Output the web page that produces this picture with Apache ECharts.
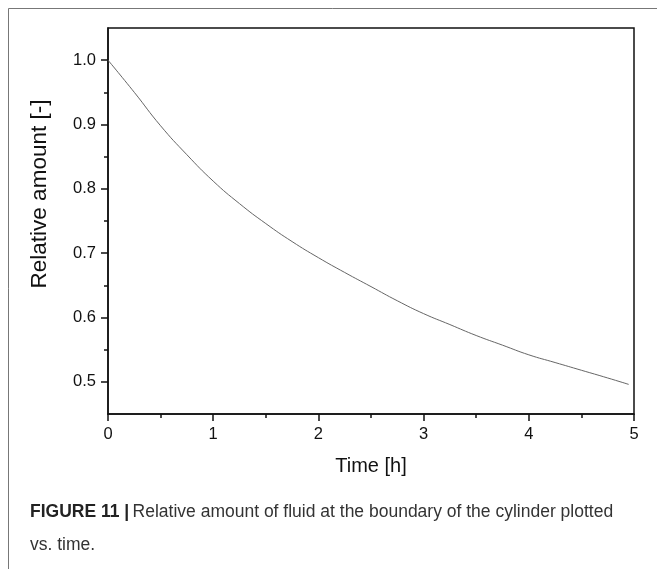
<!DOCTYPE html>
<html>
<head>
<meta charset="utf-8">
<script src="https://cdn.jsdelivr.net/npm/echarts@6/dist/echarts.min.js"></script>
<style>
  html, body { margin: 0; padding: 0; background: #fff; }
  #chart { width: 657px; height: 569px; }
</style>
</head>
<body>
<div id="chart"></div>
<script>
// Time in hours and relative amount of fluid at the cylinder boundary
const timeH = [0, 0.25, 0.5, 0.75, 1, 1.25, 1.5, 1.75, 2, 2.25, 2.5, 2.75, 3, 3.25, 3.5, 3.75, 4, 4.25, 4.5, 4.75, 4.95];
const relAmount = [1.0, 0.950, 0.898, 0.853, 0.812, 0.777, 0.746, 0.718, 0.693, 0.670, 0.648, 0.626, 0.606, 0.589, 0.572, 0.557, 0.542, 0.530, 0.518, 0.506, 0.496];

const yMajorTicks = [0.5, 0.6, 0.7, 0.8, 0.9, 1.0];
const yMinorTicks = [0.55, 0.65, 0.75, 0.85, 0.95];
const xLabels = ['0', '1', '2', '3', '4', '5'];

const FONT = 'Liberation Sans, Arial, sans-serif';

const chart = echarts.init(document.getElementById('chart'), null, { renderer: 'canvas' });

const gridBox = { left: 108, top: 28, width: 526, height: 386 };

chart.setOption({
  animation: false,
  backgroundColor: '#fff',
  grid: Object.assign({ show: true, borderColor: '#111', borderWidth: 1.5, backgroundColor: 'transparent' }, gridBox),
  xAxis: {
    type: 'value', min: 0, max: 5, interval: 1,
    axisLine: { show: true, lineStyle: { color: '#111', width: 1.5 } },
    axisTick: { show: true, length: 7, lineStyle: { color: '#111', width: 1.5 } },
    minorTick: { show: true, splitNumber: 2, length: 4, lineStyle: { color: '#111', width: 1.5 } },
    splitLine: { show: false },
    axisLabel: {
      margin: 12, color: '#111', fontSize: 16.5, fontFamily: FONT,
      formatter: v => xLabels[Math.round(v)]
    }
  },
  yAxis: [{
    type: 'value', min: 0.45, max: 1.05,
    axisLine: { show: true, lineStyle: { color: '#111', width: 1.5 } },
    axisTick: { show: true, length: 7, customValues: yMajorTicks, lineStyle: { color: '#111', width: 1.5 } },
    splitLine: { show: false },
    axisLabel: {
      margin: 12, color: '#111', fontSize: 16.5, fontFamily: FONT,
      customValues: yMajorTicks,
      formatter: v => v.toFixed(1)
    }
  }, {
    type: 'value', min: 0.45, max: 1.05, position: 'left',
    axisLine: { show: false },
    axisTick: { show: true, length: 4, customValues: yMinorTicks, lineStyle: { color: '#111', width: 1.5 } },
    axisLabel: { show: false },
    splitLine: { show: false }
  }],
  series: [{
    type: 'line',
    yAxisIndex: 0,
    data: timeH.map((t, i) => [t, relAmount[i]]),
    smooth: true,
    showSymbol: false,
    lineStyle: { color: '#666', width: 1 }
  }],
  graphic: [
    // outer figure frame (top and left edges)
    { type: 'line', shape: { x1: 8.5, y1: 8.5, x2: 657, y2: 8.5 }, style: { stroke: '#777', lineWidth: 1 } },
    { type: 'line', shape: { x1: 8.5, y1: 8.5, x2: 8.5, y2: 569 }, style: { stroke: '#777', lineWidth: 1 } },
    // axis titles
    {
      type: 'text', x: 40, y: 194, rotation: Math.PI / 2,
      style: { text: 'Relative amount [-]', fill: '#111', font: '22.5px ' + FONT, textAlign: 'center', textVerticalAlign: 'middle' }
    },
    {
      type: 'text', x: 371, y: 466,
      style: { text: 'Time [h]', fill: '#111', font: '20px ' + FONT, textAlign: 'center', textVerticalAlign: 'middle' }
    },
    // caption
    {
      type: 'text', x: 30, y: 529,
      style: {
        text: '{b|FIGURE 11 |} {r|Relative amount of fluid at the boundary of the cylinder plotted}\n{r|vs. time.}',
        lineHeight: 33,
        rich: {
          b: { font: 'bold 17.5px ' + FONT, fill: '#222', lineHeight: 33 },
          r: { font: '17.5px ' + FONT, fill: '#333', lineHeight: 33 }
        },
        textVerticalAlign: 'middle'
      }
    }
  ]
});
</script>
</body>
</html>
